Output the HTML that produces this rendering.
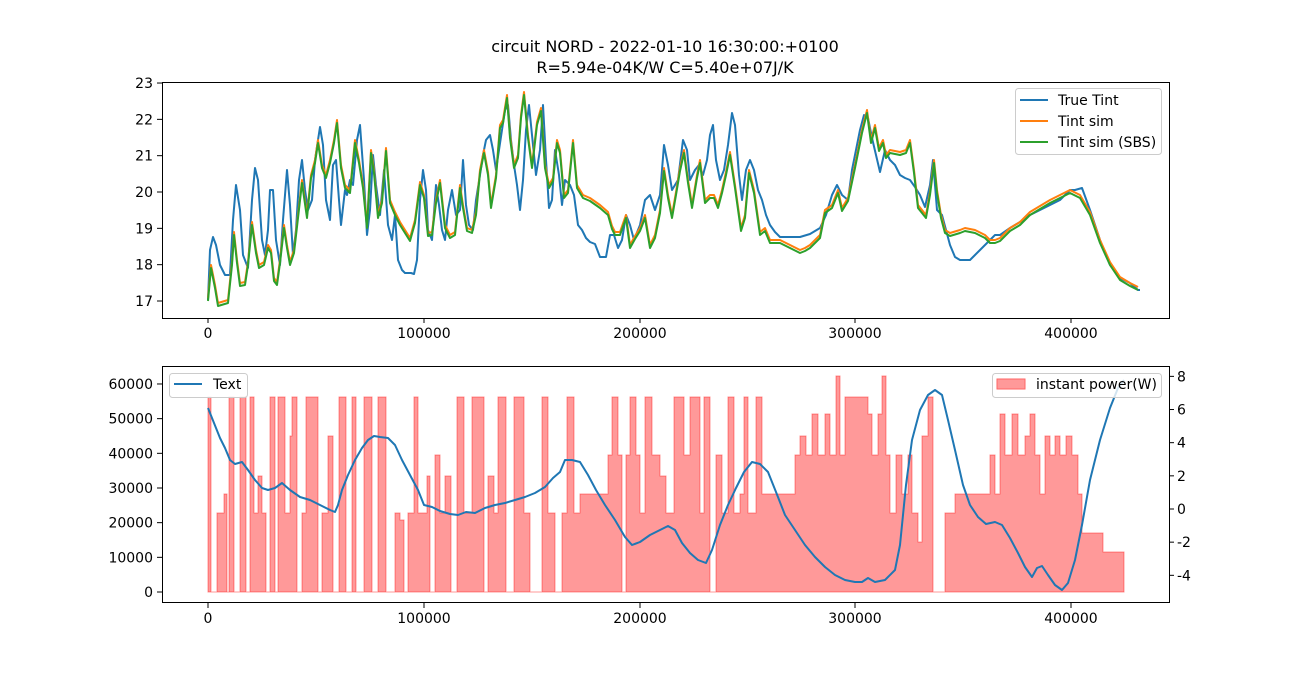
<!DOCTYPE html>
<html><head><meta charset="utf-8"><style>
body{margin:0;background:#fff;}
svg text{font-family:"DejaVu Sans","Liberation Sans",sans-serif;font-size:14px;fill:#000;}
</style></head><body>
<svg id="s" width="1299" height="677" xmlns="http://www.w3.org/2000/svg">
<rect width="1299" height="677" fill="#fff"/>
<text x="665" y="52" text-anchor="middle" style="font-size:16px">circuit NORD - 2022-01-10 16:30:00:+0100</text>
<text x="665" y="73" text-anchor="middle" style="font-size:16px">R=5.94e-04K/W C=5.40e+07J/K</text>
<g id="gtop"></g>
<g id="gbot"></g>
</svg>
<script>
(function(){
const NS="http://www.w3.org/2000/svg";
function el(p,t,a){const e=document.createElementNS(NS,t);for(const k in a)e.setAttribute(k,a[k]);p.appendChild(e);return e;}
function txt(p,x,y,s,anc){const e=el(p,'text',{x:x,y:y,'text-anchor':anc||'middle'});e.textContent=s;return e;}
const gT=document.getElementById('gtop'),gB=document.getElementById('gbot');
function pts(a,dy){dy=dy||0;let s='';for(let i=0;i<a.length;i+=2)s+=a[i]+','+(a[i+1]+dy)+' ';return s;}
const blue=[208,300,210,250,213,237,216,245,220,265,225,275,230,275,233,220,236,185,240,210,243,255,248,268,252,200,255,168,258,180,262,240,265,255,268,230,270,190,273,190,276,240,280,265,283,220,287,170,290,205,293,255,296,230,299,180,302,160,305,190,308,210,312,200,315,160,318,140,320,127,323,145,326,200,330,220,333,165,336,160,339,200,341,225,345,190,347,195,350,180,353,185,357,140,360,125,364,180,367,235,370,210,373,155,376,185,380,215,384,170,388,225,392,240,395,215,398,260,402,270,405,273,411,273,414,274,417,260,420,200,423,170,426,190,428,230,432,240,436,185,439,205,442,230,445,240,448,210,452,190,456,215,460,210,463,160,466,205,469,225,473,230,476,200,480,175,483,155,486,140,490,135,493,150,496,170,499,150,502,130,505,110,508,105,511,140,514,165,517,185,520,210,523,180,526,130,529,105,532,135,536,175,540,150,543,105,546,160,549,208,552,200,555,150,559,175,562,205,565,180,570,185,574,195,578,225,582,230,586,238,590,242,595,244,600,257,606,257,610,235,614,235,618,248,622,240,626,215,630,225,634,240,640,225,645,200,650,195,655,210,660,195,664,145,668,165,672,190,678,180,683,140,687,150,690,180,695,170,699,165,703,175,707,160,710,135,713,125,716,160,720,180,724,170,728,145,732,113,735,125,739,175,742,200,746,170,750,160,754,170,758,190,762,200,766,215,770,225,775,232,780,237,790,237,800,237,810,234,820,228,826,215,832,195,837,185,842,195,848,200,852,170,856,150,860,130,864,115,868,118,872,138,876,155,880,172,885,150,890,160,895,165,900,175,905,178,910,180,915,187,920,195,925,207,930,185,933,160,937,210,942,215,946,230,950,245,955,257,960,260,970,260,975,255,980,250,985,245,990,240,995,235,1000,235,1010,228,1020,222,1030,215,1040,210,1050,205,1060,200,1070,190,1075,190,1082,188,1090,210,1100,240,1110,265,1120,278,1130,283,1138,290,1140,290];
const org=[208,298,211,265,215,285,218,303,228,300,232,262,234,232,237,260,240,283,245,282,248,262,252,222,256,250,259,265,264,262,268,245,271,250,274,278,277,282,280,260,284,225,287,245,290,262,294,250,298,215,302,180,307,215,311,175,315,160,318,140,322,165,326,175,330,160,334,140,337,120,341,165,345,185,350,190,355,140,359,160,363,185,367,225,371,150,374,170,378,215,382,200,386,148,390,200,395,212,400,222,410,238,415,220,420,182,424,195,428,233,432,232,436,200,440,180,445,225,450,235,455,232,460,185,463,205,467,228,472,230,476,212,480,170,484,150,488,172,491,205,496,175,500,125,503,120,507,95,510,135,514,165,518,155,521,115,524,92,528,135,532,165,537,122,541,108,545,165,549,185,553,178,557,140,560,150,564,195,568,190,573,140,577,185,583,195,590,198,600,205,608,212,612,226,615,232,620,232,626,215,630,245,635,236,640,228,645,215,650,245,655,235,660,210,664,168,668,195,672,215,676,192,680,168,684,150,688,180,692,205,697,175,700,160,705,200,710,195,714,195,718,205,722,190,726,172,730,152,735,185,741,228,745,215,749,170,754,190,760,232,765,228,770,240,780,240,790,245,800,250,805,248,810,245,815,240,820,235,825,210,832,205,838,190,842,208,848,198,855,165,862,130,867,110,871,140,875,125,879,148,883,140,886,155,890,150,900,152,906,150,910,140,914,170,918,205,922,210,926,215,930,192,934,160,937,190,941,215,945,230,950,233,960,230,965,228,975,230,985,235,990,240,995,240,1000,238,1010,228,1020,222,1030,212,1040,206,1050,200,1060,195,1070,190,1080,195,1090,212,1100,240,1110,262,1120,277,1130,283,1138,287];
el(gT,'polyline',{points:pts(blue),fill:'none',stroke:'#1f77b4','stroke-width':2,'stroke-linejoin':'round'});
el(gT,'polyline',{points:pts(org),fill:'none',stroke:'#ff7f0e','stroke-width':2,'stroke-linejoin':'round'});
el(gT,'polyline',{points:pts(org,3),fill:'none',stroke:'#2ca02c','stroke-width':2,'stroke-linejoin':'round'});
el(gT,'rect',{x:162.5,y:82.5,width:1007,height:236,fill:'none',stroke:'#000','stroke-width':1});
[[0,208],[100000,424],[200000,640],[300000,855],[400000,1071]].forEach(t=>{el(gT,'line',{x1:t[1],y1:318,x2:t[1],y2:323,stroke:'#000'});txt(gT,t[1],338,t[0]);
el(gB,'line',{x1:t[1],y1:603,x2:t[1],y2:608,stroke:'#000'});txt(gB,t[1],623,t[0]);});
for(let v=17;v<=23;v++){const y=301-(v-17)*36.33;el(gT,'line',{x1:157,y1:y,x2:162,y2:y,stroke:'#000'});txt(gT,153,y+5,v,'end');}
el(gT,'rect',{x:1015.5,y:88.5,width:146,height:66,rx:3,fill:'#fff','fill-opacity':0.8,stroke:'#ccc'});
[['True Tint','#1f77b4',100],['Tint sim','#ff7f0e',121],['Tint sim (SBS)','#2ca02c',142]].forEach(l=>{el(gT,'line',{x1:1020,y1:l[2],x2:1048,y2:l[2],stroke:l[1],'stroke-width':2});txt(gT,1058,l[2]+5,l[0],'start');});
const seg=[[208,211,397],[211,217,592],[217,224,513],[224,227,494],[227,229,592],[229,234,397],[234,240,592],[240,246,397],[246,250,592],[250,254,397],[254,258,513],[258,262,476],[262,266,513],[266,270,592],[270,275,397],[275,278,592],[278,285,397],[285,290,513],[290,292,436],[292,297,397],[297,302,592],[302,306,513],[306,318,397],[318,322,592],[322,328,513],[328,333,436],[333,339,592],[339,346,397],[346,352,592],[352,356,397],[356,364,592],[364,372,397],[372,378,592],[378,386,397],[386,395,592],[395,400,513],[400,404,520],[404,408,592],[408,414,513],[414,418,397],[418,427,513],[427,430,476],[430,435,592],[435,440,455],[440,445,513],[445,451,476],[451,457,592],[457,464,397],[464,472,513],[472,484,397],[484,488,592],[488,494,476],[494,498,513],[498,506,397],[506,514,592],[514,524,397],[524,530,513],[530,542,592],[542,548,397],[548,555,513],[555,562,592],[562,567,513],[567,574,397],[574,580,513],[580,608,494],[608,612,455],[612,618,397],[618,622,455],[622,626,592],[626,630,455],[630,636,397],[636,640,455],[640,645,513],[645,652,397],[652,660,455],[660,666,476],[666,674,513],[674,684,397],[684,690,455],[690,700,397],[700,704,513],[704,710,397],[710,716,592],[716,722,455],[722,728,513],[728,734,397],[734,740,513],[740,744,494],[744,748,397],[748,756,513],[756,762,397],[762,795,494],[795,800,455],[800,806,436],[806,812,455],[812,818,414],[818,825,455],[825,830,414],[830,836,455],[836,840,376],[840,845,455],[845,868,397],[868,872,414],[872,878,455],[878,882,414],[882,886,376],[886,890,455],[890,896,513],[896,902,455],[902,908,494],[908,912,455],[912,918,513],[918,922,542],[922,928,436],[928,933,397],[933,945,592],[945,955,513],[955,990,494],[990,995,455],[995,1000,494],[1000,1005,414],[1005,1012,455],[1012,1018,414],[1018,1025,455],[1025,1030,436],[1030,1035,414],[1035,1040,455],[1040,1045,494],[1045,1050,436],[1050,1055,455],[1055,1060,436],[1060,1066,455],[1066,1072,436],[1072,1078,455],[1078,1082,494],[1082,1103,533],[1103,1124,552]];
let d='M208,592 ';seg.forEach(s=>{d+='L'+s[0]+','+s[2]+' L'+s[1]+','+s[2]+' ';});d+='L1124,592 Z';
el(gB,'path',{d:d,fill:'#ff0000','fill-opacity':0.4,stroke:'#ff0000','stroke-opacity':0.4,'stroke-width':1});
const tb=[208,408,212,418,216,428,220,438,225,448,230,460,235,464,242,462,248,470,255,480,262,488,268,490,275,488,282,483,290,490,300,497,310,500,320,505,330,510,335,512,338,505,342,490,348,475,355,460,362,448,368,440,374,436,380,437,388,438,395,445,402,460,410,475,418,490,424,505,432,507,440,511,450,514,458,515,466,512,475,513,485,508,495,505,505,503,515,500,525,497,535,493,545,487,553,478,560,472,565,460,572,460,580,462,588,475,596,490,605,505,615,520,625,537,632,545,640,542,650,535,660,530,668,526,675,530,682,543,690,553,698,560,706,563,712,550,720,525,728,505,736,488,744,472,752,462,760,464,768,472,776,492,785,515,795,530,805,545,815,557,825,567,835,575,845,580,855,582,862,582,868,578,875,582,885,580,895,570,900,545,906,485,912,440,920,410,928,395,935,390,942,395,948,420,955,450,963,485,970,505,978,517,986,524,995,522,1002,525,1010,538,1018,553,1025,567,1032,577,1037,568,1042,566,1048,575,1055,585,1062,590,1068,583,1075,560,1082,525,1090,480,1100,440,1110,408,1118,388,1124,380];
el(gB,'polyline',{points:pts(tb),fill:'none',stroke:'#1f77b4','stroke-width':2,'stroke-linejoin':'round'});
el(gB,'rect',{x:162.5,y:366.5,width:1007,height:236,fill:'none',stroke:'#000'});
for(let v=0;v<=60000;v+=10000){const y=592-v/10000*34.67;el(gB,'line',{x1:157,y1:y,x2:162,y2:y,stroke:'#000'});txt(gB,153,y+5,v,'end');}
for(let v=-4;v<=8;v+=2){const y=509-v*16.58;el(gB,'line',{x1:1169,y1:y,x2:1174,y2:y,stroke:'#000'});txt(gB,1177,y+5,v,'start');}
el(gB,'rect',{x:169.5,y:373.5,width:78,height:24,rx:3,fill:'#fff','fill-opacity':0.8,stroke:'#ccc'});
el(gB,'line',{x1:174,y1:384,x2:202,y2:384,stroke:'#1f77b4','stroke-width':2});txt(gB,213,389,'Text','start');
el(gB,'rect',{x:992.5,y:373.5,width:169,height:24,rx:3,fill:'#fff','fill-opacity':0.8,stroke:'#ccc'});
el(gB,'rect',{x:997,y:379,width:28,height:10,fill:'#ff9999',stroke:'#ff6666'});txt(gB,1036,389,'instant power(W)','start');
})();
</script>
</body></html>
